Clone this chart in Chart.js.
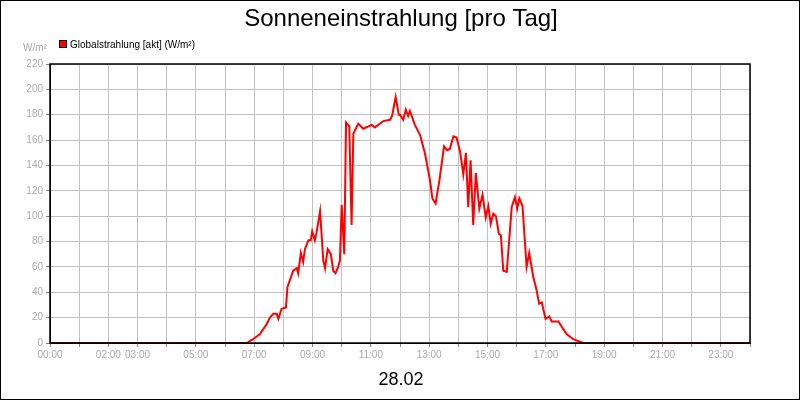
<!DOCTYPE html>
<html><head><meta charset="utf-8">
<script src="https://cdn.jsdelivr.net/npm/chart.js@4"></script>
<style>body{margin:0;background:#fff}#w{width:800px;height:400px;position:relative;box-sizing:border-box;border:1px solid #000}</style>
</head><body><div id="w"><canvas id="c"></canvas></div>
<script>
const hours=[0,6.75,6.96,7.2,7.43,7.54,7.66,7.77,7.83,7.94,8.09,8.14,8.34,8.46,8.51,8.6,8.68,8.74,8.86,8.94,8.99,9.08,9.14,9.26,9.37,9.43,9.52,9.63,9.71,9.79,9.88,9.94,10.0,10.09,10.15,10.26,10.34,10.4,10.57,10.74,11.03,11.14,11.43,11.66,11.73,11.85,11.96,12.0,12.11,12.2,12.28,12.34,12.51,12.69,12.86,13.03,13.11,13.22,13.35,13.51,13.62,13.71,13.83,13.94,14.06,14.17,14.26,14.34,14.42,14.51,14.6,14.72,14.83,14.94,15.03,15.11,15.2,15.29,15.39,15.46,15.54,15.66,15.83,15.94,16.02,16.09,16.2,16.34,16.43,16.57,16.68,16.77,16.86,16.99,17.12,17.2,17.43,17.71,17.94,18.28,24];
const values=[0,0,3,7,15,20,23,23,19,27,28,44,57,59,55,71,64,74,81,81,88,81,87,104,65,59,74,70,57,55,60,65,109,70,174,171,93,165,173,169,172,170,175,176,179,194,180,180,176,184,179,183,172,164,149,128,114,110,128,155,152,153,163,162,151,133,150,107,144,93,134,106,117,99,108,94,102,100,86,85,57,56,107,115,106,114,108,60,71,52,42,31,32,19,21,17,17,7,3,0,0];
const tickHours=[0,2,3,5,7,9,11,13,15,17,19,21,23];
const seriesName='Globalstrahlung [akt] (W/m²)';
const titleText='Sonneneinstrahlung [pro Tag]';
const dateText='28.02';
const unitText='W/m²';
const pad=n=>String(n).padStart(2,'0')+':00';
const deco={id:'deco',afterDraw(ch){const c=ch.ctx;c.save();
c.fillStyle='#000';c.font='24px "Liberation Sans"';c.textAlign='center';c.textBaseline='middle';c.fillText(titleText,400,18);
c.font='18px "Liberation Sans"';c.fillText(dateText,400,379);
c.textAlign='left';c.font='10px "Liberation Sans"';c.fillStyle='#000';c.fillText(seriesName,69,44);
c.fillStyle='#ff0000';c.fillRect(58,39,8,8);c.strokeStyle='#000';c.lineWidth=1;c.strokeRect(58.5,39.5,7,7);
c.fillStyle='#aaa';c.fillText(unitText,22,47);
const a=ch.chartArea;c.strokeStyle='#000';c.lineWidth=1.5;c.strokeRect(a.left,a.top,a.right-a.left,a.bottom-a.top);
c.restore();}};
new Chart(document.getElementById('c'),{type:'line',
data:{datasets:[{label:seriesName,data:hours.map((h,i)=>({x:h,y:values[i]})),borderColor:'#ff0000',borderWidth:2,pointRadius:0,tension:0,fill:false}]},
options:{responsive:true,maintainAspectRatio:false,animation:false,
layout:{padding:{top:63,right:49,left:0,bottom:0}},
plugins:{legend:{display:false},title:{display:false},tooltip:{enabled:false}},
scales:{
x:{type:'linear',min:0,max:24,afterFit(s){s.height=56},afterBuildTicks(s){s.ticks=[];for(let h=0;h<=24;h++)s.ticks.push({value:h});},
ticks:{autoSkip:false,maxRotation:0,color:'#aaa',font:{size:10,family:'Liberation Sans'},padding:2,callback:v=>tickHours.includes(v)?pad(v):''},
grid:{color:'#c0c0c0',tickLength:4,tickColor:'#888'},border:{color:'#000'}},
y:{min:0,max:220,afterFit(s){s.width=49},ticks:{stepSize:20,color:'#aaa',font:{size:10,family:'Liberation Sans'},padding:3},
grid:{color:'#c0c0c0',tickLength:4,tickColor:'#888'},border:{color:'#000'}}}},
plugins:[deco]});
</script></body></html>
